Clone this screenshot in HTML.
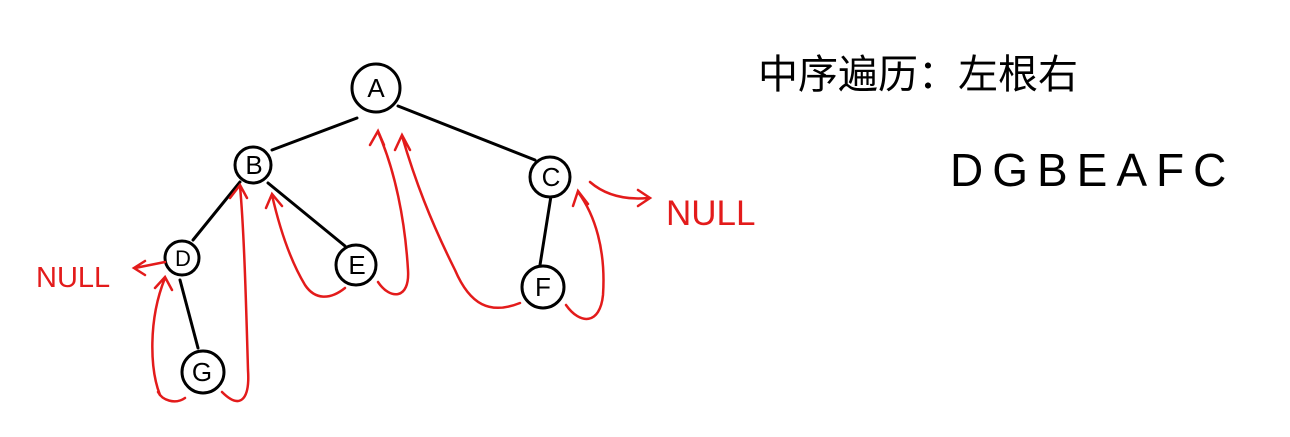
<!DOCTYPE html>
<html><head><meta charset="utf-8"><style>
html,body{margin:0;padding:0;background:#fff;width:1290px;height:437px;overflow:hidden}
svg text{font-family:"Liberation Sans","Noto Sans CJK SC",sans-serif}
</style></head><body>
<svg width="1290" height="437" viewBox="0 0 1290 437">
<g stroke="#000" stroke-width="3" fill="none" stroke-linecap="round">
<path d="M357 118 L272 150"/>
<path d="M398 106 L535 160"/>
<path d="M240 182 L193 240"/>
<path d="M268 183 L345 246"/>
<path d="M551 196 L540 265"/>
<path d="M180 280 L198 348"/>
</g>
<g stroke="#000" stroke-width="3" fill="#fff">
<ellipse cx="376" cy="88" rx="24" ry="24"/>
<ellipse cx="253" cy="165" rx="18" ry="18"/>
<ellipse cx="550" cy="177" rx="20" ry="20"/>
<ellipse cx="182" cy="258" rx="17" ry="17"/>
<ellipse cx="356" cy="265" rx="20" ry="20"/>
<ellipse cx="543" cy="287" rx="21" ry="21"/>
<ellipse cx="203" cy="372" rx="21" ry="21"/>
</g>
<g font-size="26" fill="#000" text-anchor="middle">
<text x="376" y="97">A</text>
<text x="254" y="174">B</text>
<text x="551" y="186">C</text>
<text x="183" y="266" font-size="22">D</text>
<text x="357" y="274">E</text>
<text x="543" y="296">F</text>
<text x="202" y="381">G</text>
</g>
<g stroke="#e31b1b" stroke-width="2.5" fill="none" stroke-linecap="round">
<path d="M160 395 C150 370 148 320 165 278 M155 288 L165 277 L172 290"/>
<path d="M185 398 C175 405 162 400 158 392"/>
<path d="M222 392 C240 410 250 400 248 370 C246 300 244 230 240 186 M230 198 L240 185 L247 198"/>
<path d="M345 288 C330 300 315 300 305 285 C290 260 280 230 272 195 M266 208 L272 194 L282 206"/>
<path d="M378 282 C390 300 410 300 408 270 C405 220 395 170 378 132 M370 145 L378 131 L384 145"/>
<path d="M520 303 C490 315 470 305 455 270 C430 220 415 180 402 136 M395 150 L402 135 L410 150"/>
<path d="M566 305 C580 325 600 325 603 295 C606 250 595 215 578 192 M573 206 L578 191 L588 204"/>
<path d="M590 182 C605 195 625 200 648 198 M638 190 L650 198 L638 206"/>
<path d="M165 262 L135 268 M145 261 L134 268 L145 275"/>
</g>
<text x="36" y="287" font-size="29" fill="#e31b1b">NULL</text>
<text x="666" y="225" font-size="35" fill="#e31b1b">NULL</text>
<text x="758" y="88" font-size="40" fill="#000">中序遍历：左根右</text>
<text x="950" y="186" font-size="46" fill="#000" letter-spacing="9">DGBEAFC</text>
</svg>
</body></html>
